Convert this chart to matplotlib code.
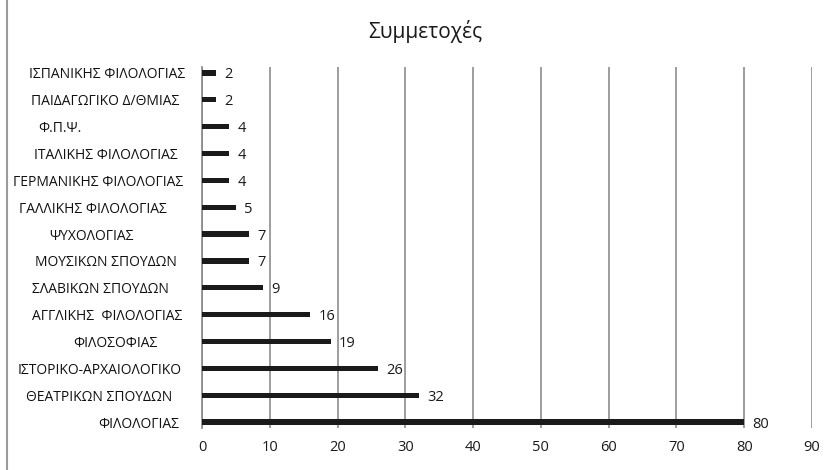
import matplotlib
matplotlib.use('Agg')
import matplotlib.pyplot as plt
from matplotlib.transforms import ScaledTranslation

# Τμήματα (από κάτω προς τα πάνω) και αριθμός συμμετοχών
departments = [
    'ΦΙΛΟΛΟΓΙΑΣ',
    'ΘΕΑΤΡΙΚΩΝ ΣΠΟΥΔΩΝ',
    'ΙΣΤΟΡΙΚΟ-ΑΡΧΑΙΟΛΟΓΙΚΟ',
    'ΦΙΛΟΣΟΦΙΑΣ',
    'ΑΓΓΛΙΚΗΣ  ΦΙΛΟΛΟΓΙΑΣ',
    'ΣΛΑΒΙΚΩΝ ΣΠΟΥΔΩΝ',
    'ΜΟΥΣΙΚΩΝ ΣΠΟΥΔΩΝ',
    'ΨΥΧΟΛΟΓΙΑΣ',
    'ΓΑΛΛΙΚΗΣ ΦΙΛΟΛΟΓΙΑΣ',
    'ΓΕΡΜΑΝΙΚΗΣ ΦΙΛΟΛΟΓΙΑΣ',
    'ΙΤΑΛΙΚΗΣ ΦΙΛΟΛΟΓΙΑΣ',
    'Φ.Π.Ψ.',
    'ΠΑΙΔΑΓΩΓΙΚΟ Δ/ΘΜΙΑΣ',
    'ΙΣΠΑΝΙΚΗΣ ΦΙΛΟΛΟΓΙΑΣ',
]
participants = [80, 32, 26, 19, 16, 9, 7, 7, 5, 4, 4, 4, 2, 2]
x_ticks = [0, 10, 20, 30, 40, 50, 60, 70, 80, 90]

# μετατόπιση κάθε ετικέτας προς τα αριστερά (σε points)
label_shift = [4.3, 9.4, 2.9, 20, 2, 11.5, 5.8, 37, 13, 1.4, 5.8, 75, 4.3, 0]

plt.rcParams['font.family'] = ['Open Sans', 'DejaVu Sans']

fig = plt.figure(figsize=(8.33, 4.70), dpi=100)
ax = fig.add_axes([0.2425, 0.0894, 0.7323, 0.7681])

y = list(range(len(departments)))
ax.barh(y, participants, height=0.2, color='#1a1a1a', zorder=3)

for yi, v in zip(y, participants):
    ax.annotate(str(v), (v, yi), xytext=(6, -1.5), textcoords='offset points',
                va='center', ha='left', fontsize=10.5, color='#1a1a1a')

ax.set_xlim(0, 90)
ax.set_ylim(-0.22, len(departments) - 1 + 0.22)
ax.set_xticks(x_ticks)
ax.set_yticks(y)
ax.set_yticklabels(departments, fontsize=10, color='#111111')
ax.tick_params(axis='y', length=0, pad=12)
ax.tick_params(axis='x', length=0, pad=9, labelsize=10.5, labelcolor='#1a1a1a')

for lbl, dx in zip(ax.get_yticklabels(), label_shift):
    lbl.set_transform(lbl.get_transform() + ScaledTranslation(-dx / 72, 0, fig.dpi_scale_trans))

ax.grid(axis='x', color='#8c8c8c', linewidth=1.2, zorder=0)
ax.grid(axis='y', visible=False)
for s in ['top', 'right', 'bottom']:
    ax.spines[s].set_visible(False)
ax.spines['left'].set_color('#888888')
ax.spines['left'].set_linewidth(1.2)

fig.text(0.51, 0.932, 'Συμμετοχές', ha='center', va='center', fontsize=15, color='#1a1a1a')

# γκρι γραμμή στο αριστερό όριο της εικόνας
fig.add_artist(plt.Line2D([0.0087, 0.0087], [0, 1], color='#9a9a9a', linewidth=1.5))

fig.savefig('out.png', dpi=100)
